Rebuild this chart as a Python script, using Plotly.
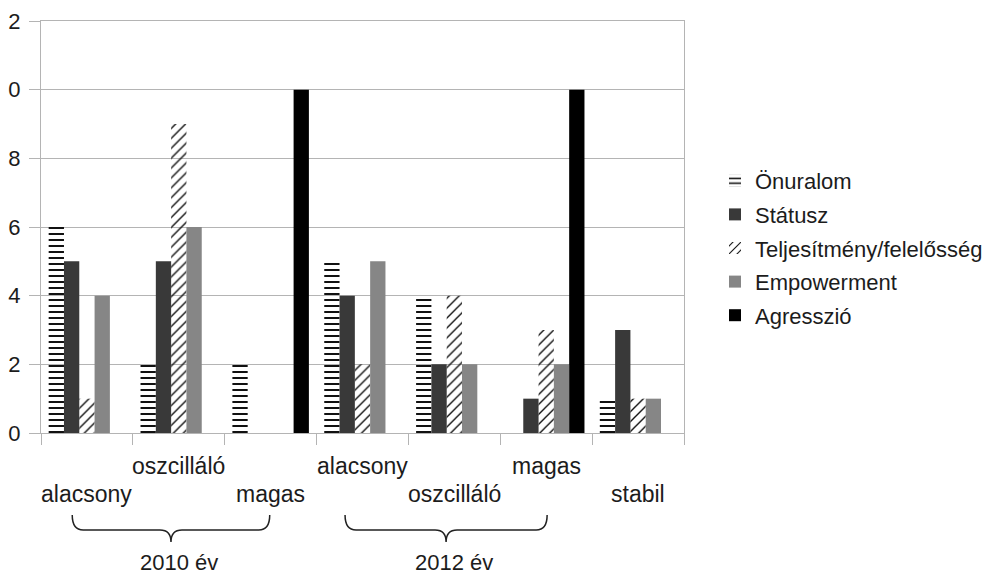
import plotly.graph_objects as go

# ---- data ----
categories = ["alacsony", "oszcilláló", "magas", "alacsony", "oszcilláló", "magas", "stabil"]
year_labels = ["2010 év", "2012 év"]
series_names = ["Önuralom", "Státusz", "Teljesítmény/felelősség", "Empowerment", "Agresszió"]
onuralom = [6, 2, 2, 5, 4, 0, 1]
statusz = [5, 5, 0, 4, 2, 1, 3]
teljesitmeny = [1, 9, 0, 2, 4, 3, 1]
empowerment = [4, 6, 0, 5, 2, 2, 1]
agresszio = [0, 0, 10, 0, 0, 10, 0]
y_tickvals = [0, 2, 4, 6, 8, 10, 12]
y_ticktext = ["0", "2", "4", "6", "8", "0", "2"]

# ---- layout constants (pixels) ----
OFF = 8  # page body margin offset
W, H = 990 - OFF, 575 - OFF
ML, MT = 41 - OFF, 21 - OFF
PR, PB = 684 - OFF, 433 - OFF
MR, MB = W - PR, H - PB
PW, PH = PR - ML, PB - MT
FONT = "Liberation Sans, Arial, sans-serif"
GRID = "#b4b4b4"
TXT = "#1c1c1c"

x_idx = list(range(len(categories)))

def px_x(px):
    # px given in reference screen pixels
    return (px - OFF - ML) / PW

def px_y(py):
    return (PB - (py - OFF)) / PH

fig = go.Figure()
fig.add_trace(go.Bar(
    name=series_names[0], x=x_idx, y=onuralom, legendgroup="a",
    marker=dict(color="#000000", line=dict(width=0),
                pattern=dict(shape="-", size=6, solidity=0.33, fgcolor="#111111",
                             bgcolor="rgba(255,255,255,0)", fillmode="replace"))))
fig.add_trace(go.Bar(
    name=series_names[1], x=x_idx, y=statusz, legendgroup="b",
    marker=dict(color="#393939", line=dict(width=0))))
fig.add_trace(go.Bar(
    name=series_names[2], x=x_idx, y=teljesitmeny, legendgroup="c",
    marker=dict(color="#111111", line=dict(width=0),
                pattern=dict(shape="/", size=7, solidity=0.2, fgcolor="#111111",
                             bgcolor="rgba(255,255,255,0)", fillmode="replace"))))
fig.add_trace(go.Bar(
    name=series_names[3], x=x_idx, y=empowerment, legendgroup="d",
    marker=dict(color="#868686", line=dict(width=0))))
fig.add_trace(go.Bar(
    name=series_names[4], x=x_idx, y=agresszio, legendgroup="e",
    marker=dict(color="#000000", line=dict(width=0))))

annotations = []
# staggered category labels
for i, lab in enumerate(categories):
    shift = -33 if i % 2 == 1 else -61
    annotations.append(dict(x=i, xref="x", y=0, yref="paper", yanchor="middle",
                            yshift=shift, text=lab, showarrow=False,
                            font=dict(family=FONT, size=23, color=TXT)))

# braces and year labels
brace_spans = [(-0.16, 1.99, 1), (2.81, 5.01, 4)]
shapes = []
for (a, b, lab_i), ylab in zip(brace_spans, year_labels):
    x0 = OFF + ML + (a + 0.5) / len(categories) * PW
    x1 = OFF + ML + (b + 0.5) / len(categories) * PW
    xm = (x0 + x1) / 2
    yt, ym, yb, r = 515, 530, 542, 11
    pts = [
        f"M {px_x(x0)},{px_y(yt)}",
        f"Q {px_x(x0)},{px_y(ym)} {px_x(x0 + r)},{px_y(ym)}",
        f"L {px_x(xm - r)},{px_y(ym)}",
        f"Q {px_x(xm)},{px_y(ym)} {px_x(xm)},{px_y(yb)}",
        f"Q {px_x(xm)},{px_y(ym)} {px_x(xm + r)},{px_y(ym)}",
        f"L {px_x(x1 - r)},{px_y(ym)}",
        f"Q {px_x(x1)},{px_y(ym)} {px_x(x1)},{px_y(yt)}",
    ]
    shapes.append(dict(type="path", xref="paper", yref="paper", path=" ".join(pts),
                       line=dict(color="#222222", width=1.5)))
    annotations.append(dict(x=lab_i, xref="x", y=0, yref="paper", yanchor="middle",
                            yshift=-(562 - 433), text=ylab, showarrow=False,
                            font=dict(family=FONT, size=22, color=TXT)))

fig.update_layout(
    width=W, height=H,
    margin=dict(l=ML, r=MR, t=MT, b=MB, autoexpand=False),
    paper_bgcolor="white", plot_bgcolor="white",
    barmode="group", bargap=0.167, bargroupgap=0,
    font=dict(family=FONT, color=TXT),
    showlegend=True,
    legend=dict(x=px_x(715), xanchor="left", y=px_y(160), yanchor="top",
                font=dict(family=FONT, size=22, color=TXT),
                traceorder="grouped", tracegroupgap=2,
                bgcolor="rgba(0,0,0,0)", borderwidth=0),
    xaxis=dict(range=[-0.5, len(categories) - 0.5], tickmode="array",
               tickvals=[i - 0.5 for i in range(len(categories) + 1)],
               ticktext=[""] * (len(categories) + 1),
               ticks="outside", ticklen=11, tickcolor=GRID, tickwidth=1,
               showline=True, linecolor=GRID, linewidth=1, mirror=True,
               showgrid=False, zeroline=False, fixedrange=True),
    yaxis=dict(range=[0, 12], tickmode="array", tickvals=y_tickvals, ticktext=y_ticktext,
               ticks="outside", ticklen=11, tickcolor=GRID, tickwidth=1,
               showline=True, linecolor=GRID, linewidth=1, mirror=True,
               showgrid=True, gridcolor=GRID, gridwidth=1, zeroline=False,
               ticklabelstandoff=4,
               tickfont=dict(family=FONT, size=22, color=TXT), fixedrange=True),
    annotations=annotations,
    shapes=shapes,
)

fig.write_html("out.html")
